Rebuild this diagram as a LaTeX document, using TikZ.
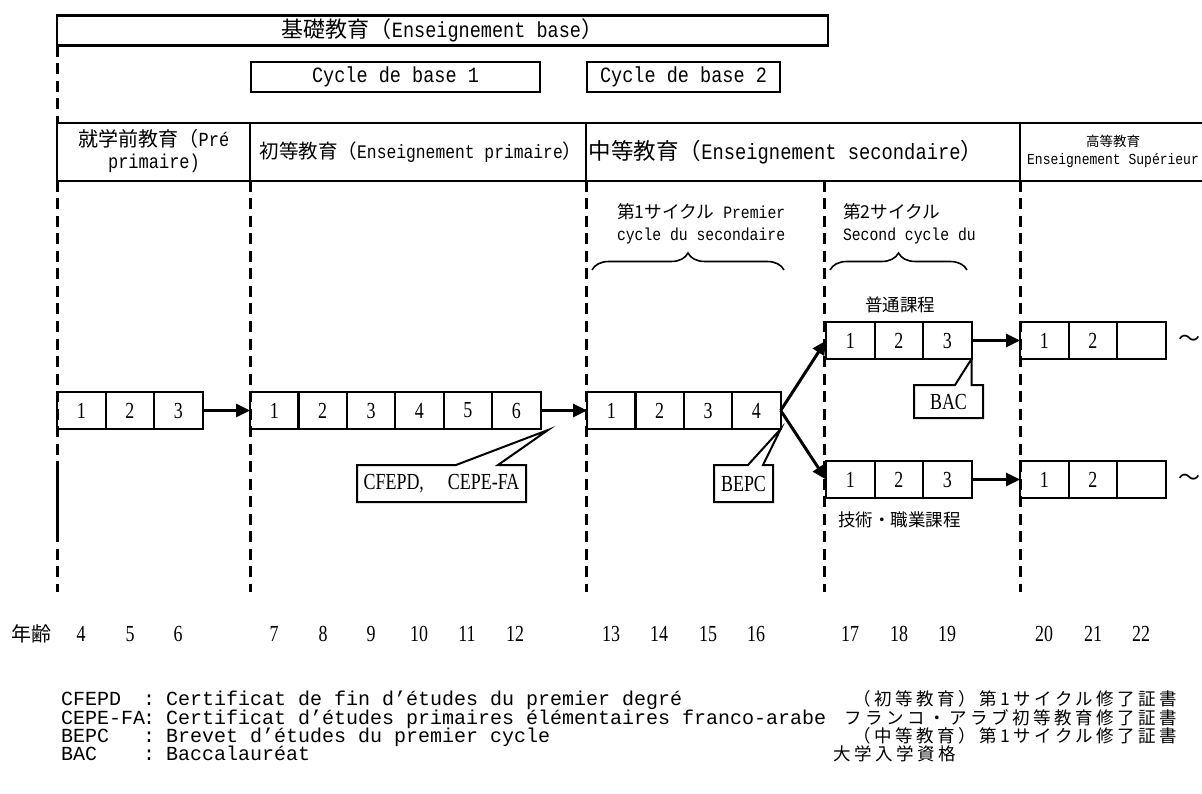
\documentclass[tikz,border=0pt]{standalone}
\usepackage{fontspec}
\setmainfont{Liberation Mono}[FakeStretch=0.85]
\newfontfamily\lmono{Liberation Mono}
\newfontfamily\cjk{Noto Sans CJK JP}
\newfontfamily\cjkls{Noto Sans CJK JP}[LetterSpace=20]
\newfontfamily\cond[FakeStretch=0.78]{Liberation Serif}
\usetikzlibrary{arrows.meta,decorations.pathreplacing}
\newcommand\fs[2]{\fontsize{#1}{#2}\selectfont}
\begin{document}
\begin{tikzpicture}[x=1pt,y=-1pt,
 boxframe/.style={draw,line width=2.4pt,inner sep=0pt,outer sep=0pt},
 cell/.style={draw,line width=2pt,minimum width=48.5pt,minimum height=37pt,inner sep=0pt,outer sep=0pt,anchor=west,font=\cond\fs{23}{23}},
 vdash/.style={line width=3pt,dash pattern=on 11pt off 6.5pt},
 hline/.style={line width=2.6pt},
 arr/.style={line width=3pt,-{Triangle[length=14pt,width=13pt]}},
 calloutline/.style={draw,line width=2pt,line join=miter},
 lbl/.style={inner sep=0pt,outer sep=0pt},
 mybrace/.style={decorate,decoration={brace,amplitude=17pt},line width=1.6pt},
]
\fill[white] (0,0) rectangle (1202,794);
\useasboundingbox (0,0) rectangle (1202,794);

% dashed vertical lines
\draw[vdash] (57,46) -- (57,123);
\foreach \x in {57,250,586,824,1020} \draw[vdash] (\x,181) -- (\x,592);
\draw[line width=3pt] (57,472) -- (57,537);

% top boxes
\node[boxframe,minimum width=771pt,minimum height=30pt,anchor=north west] (base) at (57,15.5)
  {\fs{21.8}{24}{\cjk\fs{22}{24}基礎教育（}Enseignement base{\cjk\fs{22}{24}）}};
\node[boxframe,minimum width=289pt,minimum height=30pt,anchor=north west] (cb1) at (251,62)
  {\fs{21.8}{24}Cycle de base 1};
\node[boxframe,minimum width=193pt,minimum height=30pt,anchor=north west] (cb2) at (587,62)
  {\fs{21.8}{24}Cycle de base 2};

% header row
\draw[hline] (57,123) -- (1202,123);
\draw[hline] (57,181) -- (1202,181);
\foreach \x in {57,250,586,1020} \draw[hline] (\x,123) -- (\x,181);
\node[lbl,align=center,font=\fs{20}{22}] (hpre) at (154,151)
  {{\cjk\fs{20}{22}就学前教育（}Pré\\primaire)};
\node[lbl] (hpri) at (421,152)
  {\fs{19.2}{20}{\cjk\fs{19.5}{20}初等教育（}Enseignement primaire{\cjk\fs{19.5}{20}）}};
\node[lbl] (hsec) at (786,152)
  {\fs{22.1}{24}{\cjk\fs{22.5}{24}中等教育（}Enseignement secondaire{\cjk\fs{22.5}{24}）}};
\node[lbl,align=center,font=\fs{15.3}{18}] (hsup) at (1113,151)
  {{\cjk\fs{13.5}{18}高等教育}\\Enseignement Supérieur};

% cycle labels and braces
\node[lbl,align=left,anchor=west,font=\fs{17.35}{22}] (c1t) at (617,224)
  {{\cjk\fs{17.7}{22}第1サイクル} Premier\\cycle du secondaire};
\node[lbl,align=left,anchor=west,font=\fs{17.35}{22}] (c2t) at (843,224)
  {{\cjk\fs{17.7}{22}第2サイクル}\\Second cycle du};
\draw[mybrace] (592,270) -- (784,270);
\draw[mybrace] (830,270) -- (967,270);

\node[lbl,font=\cjk\fs{17.5}{20}] (gen) at (900,305) {普通課程};
\node[lbl,anchor=west,font=\cjk\fs{17.5}{20}] (tech) at (838,520) {技術・職業課程};

% year cells
\foreach \i in {1,2,3} \node[cell] (a\i) at ({57+(\i-1)*48.5},410.5) {\i};
\foreach \i in {1,...,6} \node[cell] (b\i) at ({250+(\i-1)*48.4},410.5) {\i};
\foreach \i in {1,...,4} \node[cell] (c\i) at ({587+(\i-1)*48.4},410.5) {\i};
\foreach \i in {1,2,3} \node[cell] (u\i) at ({826+(\i-1)*48.5},340.5) {\i};
\foreach \i in {1,2,3} \node[cell] (l\i) at ({826+(\i-1)*48.5},479.5) {\i};
\foreach \i/\t in {1/1,2/2,3/{}} \node[cell] (hu\i) at ({1020+(\i-1)*48.5},340.5) {\t};
\foreach \i/\t in {1/1,2/2,3/{}} \node[cell] (hl\i) at ({1020+(\i-1)*48.5},479.5) {\t};
\node[lbl,font=\cjk\fs{22}{22}] (tu) at (1189,340.5) {～};
\node[lbl,font=\cjk\fs{22}{22}] (tl) at (1189,479.5) {～};

% arrows
\draw[arr] (a3.east) -- (b1.west);
\draw[arr] (b6.east) -- (c1.west);
\draw[arr] (c4.east) -- (u1.west);
\draw[arr] (c4.east) -- (l1.west);
\draw[arr] (u3.east) -- (hu1.west);
\draw[arr] (l3.east) -- (hl1.west);

% callouts
\draw[calloutline] (357,465) -- (456,465) -- (548,430) -- (498,465) -- (526,465) -- (526,502) -- (357,502) -- cycle;
\node[lbl,font=\cond\fs{23}{23}] (cfe) at (441.5,484) {CFEPD,\hspace{24pt}CEPE-FA};
\draw[calloutline] (714,465) -- (748,465) -- (c4.south east) -- (763,465) -- (773,465) -- (773,502) -- (714,502) -- cycle;
\node[lbl,font=\cond\fs{23}{23}] (bepc) at (743.5,484) {BEPC};
\draw[calloutline] (914,385) -- (955,385) -- (u3.south east) -- (u3.south east |- 0,385) -- (983,385) -- (983,418) -- (914,418) -- cycle;
\node[lbl,font=\cond\fs{23}{23}] (bac) at (948.5,402) {BAC};

% ages
\node[lbl,font=\cjk\fs{20}{20}] (agel) at (31,634) {年齢};
\foreach \n/\x in {4/81,5/130,6/178,7/274,8/323,9/371,10/419,11/467,12/515,13/611,14/659,15/708,16/756,17/850,18/899,19/947,20/1044,21/1093,22/1141}
  \node[lbl,font=\cond\fs{23}{23}] (age\n) at (\x,634) {\n};

% legend
\begin{scope}[every node/.style={lbl,font=\lmono\fs{20}{20}}]
\node[anchor=base west] (k1) at (61,705) {CFEPD};
\node[anchor=base west] (k2) at (61,724) {CEPE-FA};
\node[anchor=base west] (k3) at (61,742) {BEPC};
\node[anchor=base west] (k4) at (61,760) {BAC};
\foreach \y/\i in {705/1,724/2,742/3,760/4} \node[anchor=base] (s\i) at (149,\y) {:};
\node[anchor=base west] (d1) at (166,705) {Certificat de fin d’études du premier degré};
\node[anchor=base west] (d2) at (166,724) {Certificat d’études primaires élémentaires franco-arabe};
\node[anchor=base west] (d3) at (166,742) {Brevet d’études du premier cycle};
\node[anchor=base west] (d4) at (166,760) {Baccalauréat};
\node[anchor=base east,font=\cjkls\fs{17.5}{18}] (j1) at (1177,705) {（初等教育）第1サイクル修了証書};
\node[anchor=base east,font=\cjkls\fs{17.5}{18}] (j2) at (1177,724) {フランコ・アラブ初等教育修了証書};
\node[anchor=base east,font=\cjkls\fs{17.5}{18}] (j3) at (1177,742) {（中等教育）第1サイクル修了証書};
\node[anchor=base west,font=\cjkls\fs{17.5}{18}] (j4) at (833,760) {大学入学資格};
\end{scope}
\end{tikzpicture}
\end{document}
